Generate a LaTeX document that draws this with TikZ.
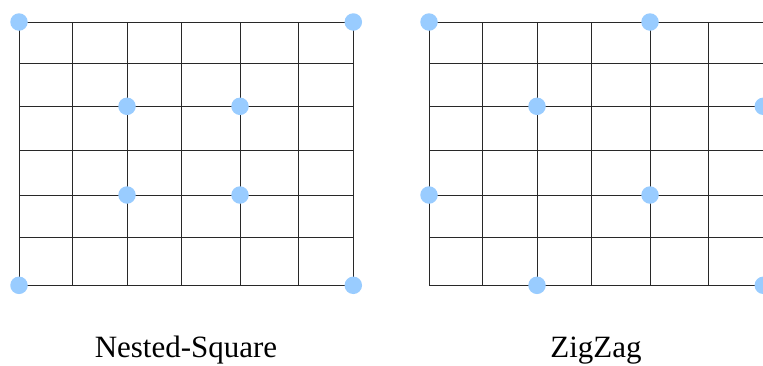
\documentclass[tikz,border=0pt]{standalone}
\usepackage{fontspec}
\setmainfont{Liberation Serif}
\definecolor{dotblue}{RGB}{153,204,255}
\definecolor{gridline}{RGB}{40,40,40}
\tikzset{
  gridln/.style={draw=gridline, line width=1pt},
  vtx/.style={circle, fill=dotblue, inner sep=0pt, minimum size=17.5pt},
  caption/.style={anchor=base, font=\fontsize{31}{36}\selectfont, inner sep=0pt}
}
\begin{document}
\begin{tikzpicture}[x=1pt,y=-1pt]
\useasboundingbox (0,0) rectangle (763,365);
\clip (0,0) rectangle (763,365);
% two grids: the right one is the left one shifted by 410
\foreach \dx/\g in {0/L,410/R}{
  \begin{scope}[xshift=\dx pt]
    \foreach \x in {19,72,127,181.7,240,298.3,353.3}
      \draw[gridln] (\x,22) -- (\x,285.3);
    \foreach \y in {22,63.7,106.3,150.7,195,237.7,285.3}
      \draw[gridln] (19,\y) -- (353.3,\y);
  \end{scope}
}
% Nested-Square dots
\node[vtx] (a1) at (19,22) {};
\node[vtx] (a2) at (353.3,22) {};
\node[vtx] (a3) at (19,285.3) {};
\node[vtx] (a4) at (353.3,285.3) {};
\node[vtx] (a5) at (127,106.3) {};
\node[vtx] (a6) at (240,106.3) {};
\node[vtx] (a7) at (127,195) {};
\node[vtx] (a8) at (240,195) {};
% ZigZag dots
\node[vtx] (b1) at (429,22) {};
\node[vtx] (b2) at (650,22) {};
\node[vtx] (b3) at (537,106.3) {};
\node[vtx] (b4) at (763.3,106.3) {};
\node[vtx] (b5) at (429,195) {};
\node[vtx] (b6) at (650,195) {};
\node[vtx] (b7) at (537,285.3) {};
\node[vtx] (b8) at (763.3,285.3) {};
% captions
\node[caption] (c1) at (186,357) {Nested-Square};
\node[caption] (c2) at (596,357) {ZigZag};
\end{tikzpicture}
\end{document}
